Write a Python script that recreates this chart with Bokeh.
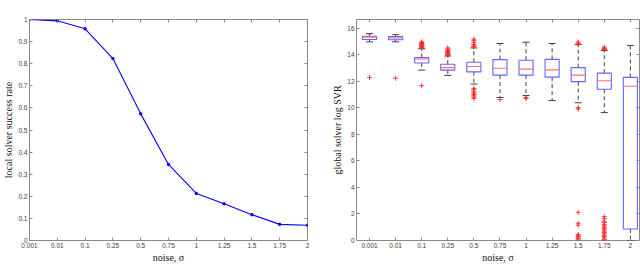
from bokeh.plotting import figure
from bokeh.layouts import row
from bokeh.models import (FixedTicker, LinearAxis, NumeralTickFormatter, Range1d,
                          CustomLabelingPolicy)
from bokeh.embed import file_html
from bokeh.resources import INLINE

# ---------------- data ----------------
noise_labels = ["0.001", "0.01", "0.1", "0.25", "0.5", "0.75", "1", "1.25", "1.5", "1.75", "2"]

success_rate = [1.0, 0.994, 0.958, 0.823, 0.573, 0.344, 0.213, 0.166, 0.117, 0.073, 0.069]

whisker_high = [15.58, 15.50, 14.44, 13.89, 14.50, 14.83, 14.93, 14.83, 14.76, 14.31, 14.69]
box_q3       = [15.38, 15.36, 13.77, 13.27, 13.42, 13.62, 13.57, 13.64, 13.02, 12.60, 12.28]
box_median   = [15.31, 15.26, 13.67, 13.02, 13.10, 12.97, 12.90, 12.85, 12.45, 12.03, 11.61]
box_q1       = [15.13, 15.11, 13.37, 12.83, 12.70, 12.45, 12.45, 12.30, 11.96, 11.39, 0.87]
whisker_low  = [14.96, 14.96, 12.83, 12.43, 11.78, 10.77, 10.92, 10.54, 10.37, 9.63, 0.0]

outliers = [
    [12.28],
    [12.22],
    [11.66, 14.5, 14.55, 14.6, 14.65, 14.7, 14.75, 14.8, 14.85, 14.9, 14.95],
    [13.95, 14.0, 14.05, 14.1, 14.15, 14.2, 14.25, 14.3, 14.4, 14.5],
    [14.6, 14.65, 14.75, 14.9, 15.05, 15.15, 11.45, 11.35, 11.2, 11.1, 11.0, 10.9, 10.8, 10.7],
    [10.62],
    [10.7, 10.75],
    [],
    [14.95, 14.85, 14.75, 10.0, 9.9, 2.12, 1.3, 1.15, 0.45, 0.4, 0.3, 0.2, 0.15, 0.05],
    [14.55, 14.45, 14.4, 14.35, 1.8, 1.65, 1.45, 1.35, 1.2, 1.1, 1.0, 0.9, 0.8, 0.7,
     0.6, 0.5, 0.4, 0.3, 0.2, 0.1, 0.05, 0.0],
    [],
]

xlabel = "noise, σ"
ylabel_left = "local solver success rate"
ylabel_right = "global solver log SVR"

# ---------------- style ----------------
TICK_FONT = "Liberation Sans"
LABEL_FONT = "Liberation Serif"
FRAME = "#8a8a8a"
TICK_TXT = "#404040"

idx = list(range(len(noise_labels)))
overrides = {i: lab for i, lab in enumerate(noise_labels)}

NO_LABELS = "for (const i of Array.from(indices)) { indices.unset(i) }\nreturn indices"


def style(p, yticks, yfmt=None):
    p.outline_line_color = FRAME
    p.outline_line_width = 1
    p.xgrid.visible = False
    p.ygrid.visible = False
    p.background_fill_color = "white"
    p.border_fill_color = "white"
    p.xaxis.ticker = FixedTicker(ticks=idx)
    p.xaxis.major_label_overrides = overrides
    p.yaxis.ticker = FixedTicker(ticks=yticks)
    if yfmt is not None:
        p.yaxis.formatter = yfmt
    for ax in p.xaxis + p.yaxis:
        ax.axis_line_color = None
        ax.major_tick_in = 3
        ax.major_tick_out = 0
        ax.minor_tick_line_color = None
        ax.major_tick_line_color = FRAME
        ax.major_label_text_font = TICK_FONT
        ax.major_label_text_font_size = "6.5px"
        ax.major_label_text_color = TICK_TXT
        ax.major_label_standoff = 2
        ax.axis_label_text_font = LABEL_FONT
        ax.axis_label_text_font_size = "10px"
        ax.axis_label_text_font_style = "normal"
        ax.axis_label_text_color = "#111111"
        ax.axis_label_standoff = 1
    # mirrored ticks (box on), without labels
    top = LinearAxis(ticker=FixedTicker(ticks=idx))
    right = LinearAxis(ticker=FixedTicker(ticks=yticks))
    for ax in (top, right):
        ax.axis_line_color = None
        ax.major_tick_in = 3
        ax.major_tick_out = 0
        ax.minor_tick_line_color = None
        ax.major_tick_line_color = FRAME
        ax.major_label_policy = CustomLabelingPolicy(code=NO_LABELS)
        ax.major_label_text_font_size = "0px"
        ax.major_label_standoff = 0
        ax.axis_label_standoff = 0
    p.add_layout(top, "above")
    p.add_layout(right, "right")


# ---------------- left: success rate ----------------
p1 = figure(width=326, height=265, output_backend="svg", toolbar_location=None,
            x_range=Range1d(0, 10), y_range=Range1d(0, 1),
            min_border_left=26, min_border_right=19, min_border_top=19, min_border_bottom=23)
p1.xaxis.axis_label = xlabel
p1.yaxis.axis_label = ylabel_left
style(p1, [i / 10 for i in range(11)], NumeralTickFormatter(format="0.[0]"))
p1.line(idx, success_rate, line_color="#0000ff", line_width=1.1)
p1.scatter(idx, success_rate, size=2.5, color="#0000ff")

# ---------------- right: box plot ----------------
p2 = figure(width=314, height=265, output_backend="svg", toolbar_location=None,
            x_range=Range1d(-0.5, 10.35), y_range=Range1d(0, 16.64),
            min_border_left=30, min_border_right=1, min_border_top=18, min_border_bottom=23)
p2.xaxis.axis_label = xlabel
p2.yaxis.axis_label = ylabel_right
style(p2, list(range(0, 17, 2)))

bw = 0.54
cw = 0.27
# whiskers (dashed)
p2.segment(x0=idx, y0=box_q3, x1=idx, y1=whisker_high, line_color="#404040",
           line_width=1, line_dash="4 3")
p2.segment(x0=idx, y0=box_q1, x1=idx, y1=whisker_low, line_color="#404040",
           line_width=1, line_dash="4 3")
# caps
p2.segment(x0=[i - cw / 2 for i in idx], y0=whisker_high, x1=[i + cw / 2 for i in idx],
           y1=whisker_high, line_color="#404040", line_width=1)
p2.segment(x0=[i - cw / 2 for i in idx], y0=whisker_low, x1=[i + cw / 2 for i in idx],
           y1=whisker_low, line_color="#404040", line_width=1)
# boxes
p2.vbar(x=idx, top=box_q3, bottom=box_q1, width=bw, fill_color=None,
        line_color="#6464ff", line_width=1.1)
# medians
p2.segment(x0=[i - bw / 2 for i in idx], y0=box_median, x1=[i + bw / 2 for i in idx],
           y1=box_median, line_color="#ff7070", line_width=1.1)
# outliers
ox = [i for i, vals in enumerate(outliers) for _ in vals]
oy = [v for vals in outliers for v in vals]
p2.scatter(ox, oy, marker="cross", size=5, line_color="#ff2020", line_width=1, line_alpha=0.85)

layout = row(p1, p2)
open("out.html", "w").write(file_html(layout, INLINE))
